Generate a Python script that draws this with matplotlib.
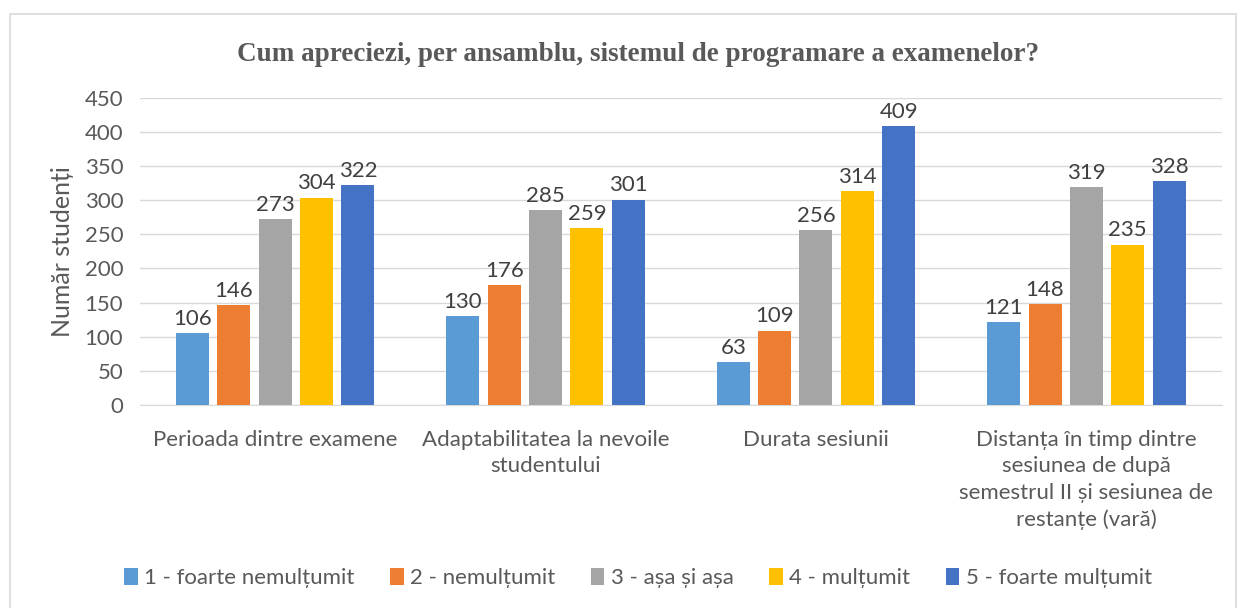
import matplotlib
matplotlib.use("Agg")
import matplotlib.pyplot as plt
from matplotlib.patches import Rectangle
import numpy as np

categories = ["Perioada dintre examene",
              "Adaptabilitatea la nevoile\nstudentului",
              "Durata sesiunii",
              "Distanța în timp dintre\nsesiunea de după\nsemestrul II și sesiunea de\nrestanțe (vară)"]
series_names = ["1 - foarte nemulțumit", "2 - nemulțumit", "3 - așa și așa",
                "4 - mulțumit", "5 - foarte mulțumit"]
values = [
    [106, 130, 63, 121],
    [146, 176, 109, 148],
    [273, 285, 256, 319],
    [304, 259, 314, 235],
    [322, 301, 409, 328],
]
colors = ["#5B9BD5", "#ED7D31", "#A5A5A5", "#FFC000", "#4472C4"]
yticks = [0, 50, 100, 150, 200, 250, 300, 350, 400, 450]

FONT = ["Lato", "DejaVu Sans"]
plt.rcParams['font.family'] = FONT
txt = "#595959"
FS = 16

fig = plt.figure(figsize=(12.44, 6.08), dpi=100)
ax = fig.add_axes([0.1125, 0.334, 0.8695, 0.505])

x = np.arange(len(categories))
step = 0.153
width = 0.122
for i, (name, vals, c) in enumerate(zip(series_names, values, colors)):
    pos = x + (i - 2) * step
    bars = ax.bar(pos, vals, width, color=c, label=name, zorder=3)
    for b, v in zip(bars, vals):
        ax.text(b.get_x() + b.get_width() / 2, v + 6, str(v), ha="center", va="bottom",
                fontsize=FS, color="#404040")

ax.set_xlim(-0.5, len(categories) - 0.5)
ax.set_ylim(0, 450)
ax.set_yticks(yticks)
ax.set_yticklabels([str(t) for t in yticks], fontsize=FS, color=txt)
ax.set_xticks(x)
ax.set_xticklabels(categories, fontsize=FS, color=txt, linespacing=1.4)
ax.tick_params(axis="both", length=0, pad=12)
ax.tick_params(axis="x", pad=18)
ax.grid(axis="y", color="#D9D9D9", linewidth=1, zorder=0)
for s in ["top", "right", "left"]:
    ax.spines[s].set_visible(False)
ax.spines["bottom"].set_color("#D9D9D9")
ax.set_ylabel("Număr studenți", fontsize=18, color=txt, labelpad=8)

fig.text(0.513, 0.91, "Cum apreciezi, per ansamblu, sistemul de programare a examenelor?",
         ha="center", va="center", fontsize=19.5, fontweight="bold",
         family="Liberation Serif", color=txt)

leg = fig.legend(loc="center", bbox_to_anchor=(0.513, 0.049), ncol=5, frameon=False,
                 fontsize=FS, handlelength=0.6, handleheight=0.8, handletextpad=0.3,
                 columnspacing=1.6)
for t in leg.get_texts():
    t.set_color(txt)

fig.add_artist(Rectangle((10 / 1244, -0.05), 1226 / 1244, 1.05 - 14 / 608,
                         transform=fig.transFigure, fill=False,
                         edgecolor="#D9D9D9", linewidth=1.2))

fig.savefig("out.png", dpi=100, facecolor="white")
